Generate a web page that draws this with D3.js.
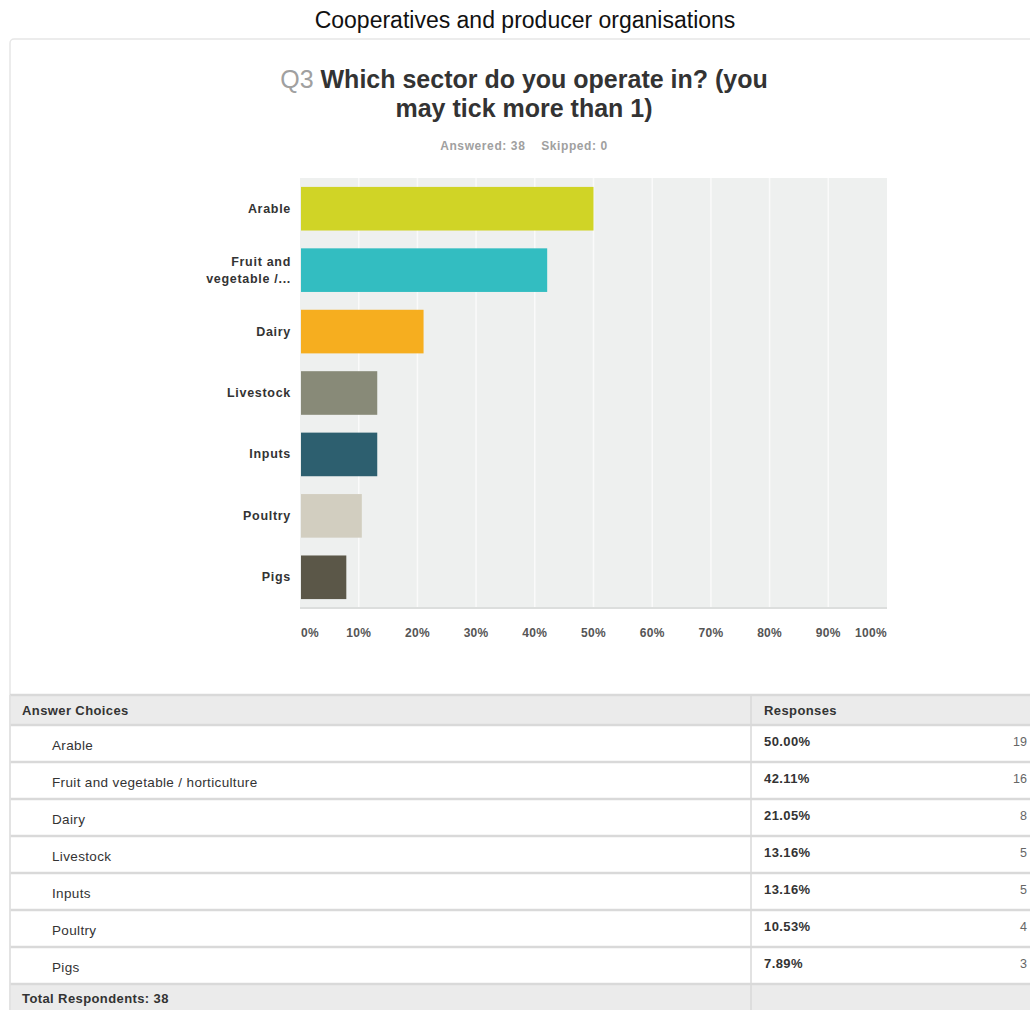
<!DOCTYPE html>
<html><head><meta charset="utf-8">
<script src="https://cdn.jsdelivr.net/npm/d3@7"></script>
<style>
body{margin:0;background:#fff;}
svg{display:block;font-family:"Liberation Sans",Arial,Helvetica,sans-serif;}
</style></head>
<body>
<script>
const categories = ["Arable","Fruit and vegetable / horticulture","Dairy","Livestock","Inputs","Poultry","Pigs"];
const axisLabels = [["Arable"],["Fruit and","vegetable /..."],["Dairy"],["Livestock"],["Inputs"],["Poultry"],["Pigs"]];
const percents = [50.00, 42.11, 21.05, 13.16, 13.16, 10.53, 7.89];
const counts = [19, 16, 8, 5, 5, 4, 3];
const colors = ["#d0d426","#33bdc1","#f6ae1f","#888a78","#2d5f6f","#d2cec0","#5b5748"];
const ticks = [0,10,20,30,40,50,60,70,80,90,100];
const totalRespondents = 38;
const skipped = 0;

const W = 1030, H = 1010;
const svg = d3.select("body").append("svg").attr("width", W).attr("height", H);

// page title
svg.append("text").attr("x", 525).attr("y", 28).attr("text-anchor","middle")
  .attr("font-size", 23).attr("fill","#111").text("Cooperatives and producer organisations");

// card
svg.append("rect").attr("x", 10).attr("y", 39).attr("width", 1030).attr("height", 1000)
  .attr("rx", 4).attr("fill","#fff").attr("stroke","#e6e6e6").attr("stroke-width",1.5);

// question title
const qt = svg.append("text").attr("text-anchor","middle").attr("font-weight","bold")
  .attr("font-size", 25).attr("fill","#333");
const l1 = qt.append("tspan").attr("x", 524).attr("y", 88);
l1.append("tspan").attr("fill","#a0a0a0").attr("font-weight","normal").text("Q3 ");
l1.append("tspan").text("Which sector do you operate in? (you");
qt.append("tspan").attr("x", 524).attr("y", 117).text("may tick more than 1)");

svg.append("text").attr("x", 524).attr("y", 150).attr("text-anchor","middle")
  .attr("font-size", 12).attr("font-weight","bold").attr("fill","#a0a0a0")
  .attr("letter-spacing","0.6")
  .attr("xml:space","preserve")
  .text("Answered: " + totalRespondents + "    Skipped: " + skipped);

// chart
const x = d3.scaleLinear().domain([0,100]).range([300, 887]);
const y = d3.scaleBand().domain(categories).range([178, 608]).paddingInner(0.29).paddingOuter(0.145);

svg.append("rect").attr("x", x(0)).attr("y", 178).attr("width", x(100)-x(0)).attr("height", 430)
  .attr("fill","#eef0ef");
svg.append("line").attr("x1", x(0)).attr("x2", x(100)).attr("y1", 608).attr("y2", 608)
  .attr("stroke","#dcdedd").attr("stroke-width",2);

svg.append("g").selectAll("line").data(ticks.slice(1,-1)).join("line")
  .attr("x1", d=>x(d)).attr("x2", d=>x(d)).attr("y1",178).attr("y2",607)
  .attr("stroke","#fafafa").attr("stroke-width",1.5);

svg.append("g").selectAll("rect").data(categories).join("rect")
  .attr("x", x(0)+1).attr("y", d=>y(d)).attr("height", y.bandwidth())
  .attr("width", (d,i)=>x(percents[i])-x(0)-1).attr("fill",(d,i)=>colors[i]);

// category labels
const cl = svg.append("g").attr("font-size",12.5).attr("font-weight","bold").attr("fill","#333")
  .attr("text-anchor","end").attr("letter-spacing","0.7");
categories.forEach((c,i)=>{
  const lines = axisLabels[i];
  const cy = y(c) + y.bandwidth()/2;
  const t = cl.append("text");
  lines.forEach((ln,j)=>{
    t.append("tspan").attr("x", 291).attr("y", cy + 4 + (j - (lines.length-1)/2)*17).text(ln);
  });
});

// x tick labels
svg.append("g").attr("font-size",12).attr("font-weight","bold").attr("fill","#555")
  .attr("letter-spacing","0.3")
  .selectAll("text").data(ticks).join("text")
  .attr("x", d=> d===0 ? x(d)+1 : x(d))
  .attr("text-anchor", d=> d===0 ? "start" : d===100 ? "end" : "middle")
  .attr("y", 637).text(d=>d+"%");

// table
const tX = 10, tR = 1040, colX = 751;
const headTop = 695, headH = 30, rowH = 37;
const rowTop = i => headTop + headH + i*rowH;
const totalTop = rowTop(categories.length);
svg.append("rect").attr("x",tX).attr("y",headTop).attr("width",tR-tX).attr("height",headH).attr("fill","#ebebeb");
svg.append("rect").attr("x",tX).attr("y",totalTop).attr("width",tR-tX).attr("height",H-totalTop+5).attr("fill","#ebebeb");

const seps = d3.range(categories.length+2).map(i=> headTop + (i===0?0:headH + (i-1)*rowH));
svg.append("g").selectAll("line").data(seps).join("line")
  .attr("x1",tX).attr("x2",tR).attr("y1",d=>d).attr("y2",d=>d)
  .attr("stroke","#d9d9d9").attr("stroke-width",2.5);
svg.append("line").attr("x1",colX).attr("x2",colX).attr("y1",headTop).attr("y2",H)
  .attr("stroke","#d9d9d9").attr("stroke-width",1.5);
svg.append("line").attr("x1",tX).attr("x2",tX).attr("y1",headTop).attr("y2",H)
  .attr("stroke","#e0e0e0").attr("stroke-width",1.5);

const hdr = {"font-size":13,"font-weight":"bold","fill":"#333","letter-spacing":"0.4"};
const h1 = svg.append("text").attr("x",22).attr("y",headTop+20).text("Answer Choices");
const h2 = svg.append("text").attr("x",764).attr("y",headTop+20).text("Responses");
[h1,h2].forEach(t=>Object.entries(hdr).forEach(([k,v])=>t.attr(k,v)));

const rows = svg.append("g").selectAll("g").data(categories).join("g")
  .attr("transform",(d,i)=>`translate(0,${rowTop(i)})`);
rows.append("text").attr("x",52).attr("y",25).attr("font-size",13.5).attr("letter-spacing","0.35")
  .attr("fill","#333").text(d=>d);
rows.append("text").attr("x",764).attr("y",21).attr("font-size",13).attr("font-weight","bold")
  .attr("letter-spacing","0.4").attr("fill","#333").text((d,i)=>percents[i].toFixed(2)+"%");
rows.append("text").attr("x",1027).attr("y",21).attr("font-size",12.5).attr("text-anchor","end")
  .attr("fill","#666").text((d,i)=>counts[i]);

svg.append("text").attr("x",22).attr("y",totalTop+19).attr("font-size",13).attr("font-weight","bold")
  .attr("letter-spacing","0.4").attr("fill","#333").text("Total Respondents: " + totalRespondents);
</script>
</body></html>
